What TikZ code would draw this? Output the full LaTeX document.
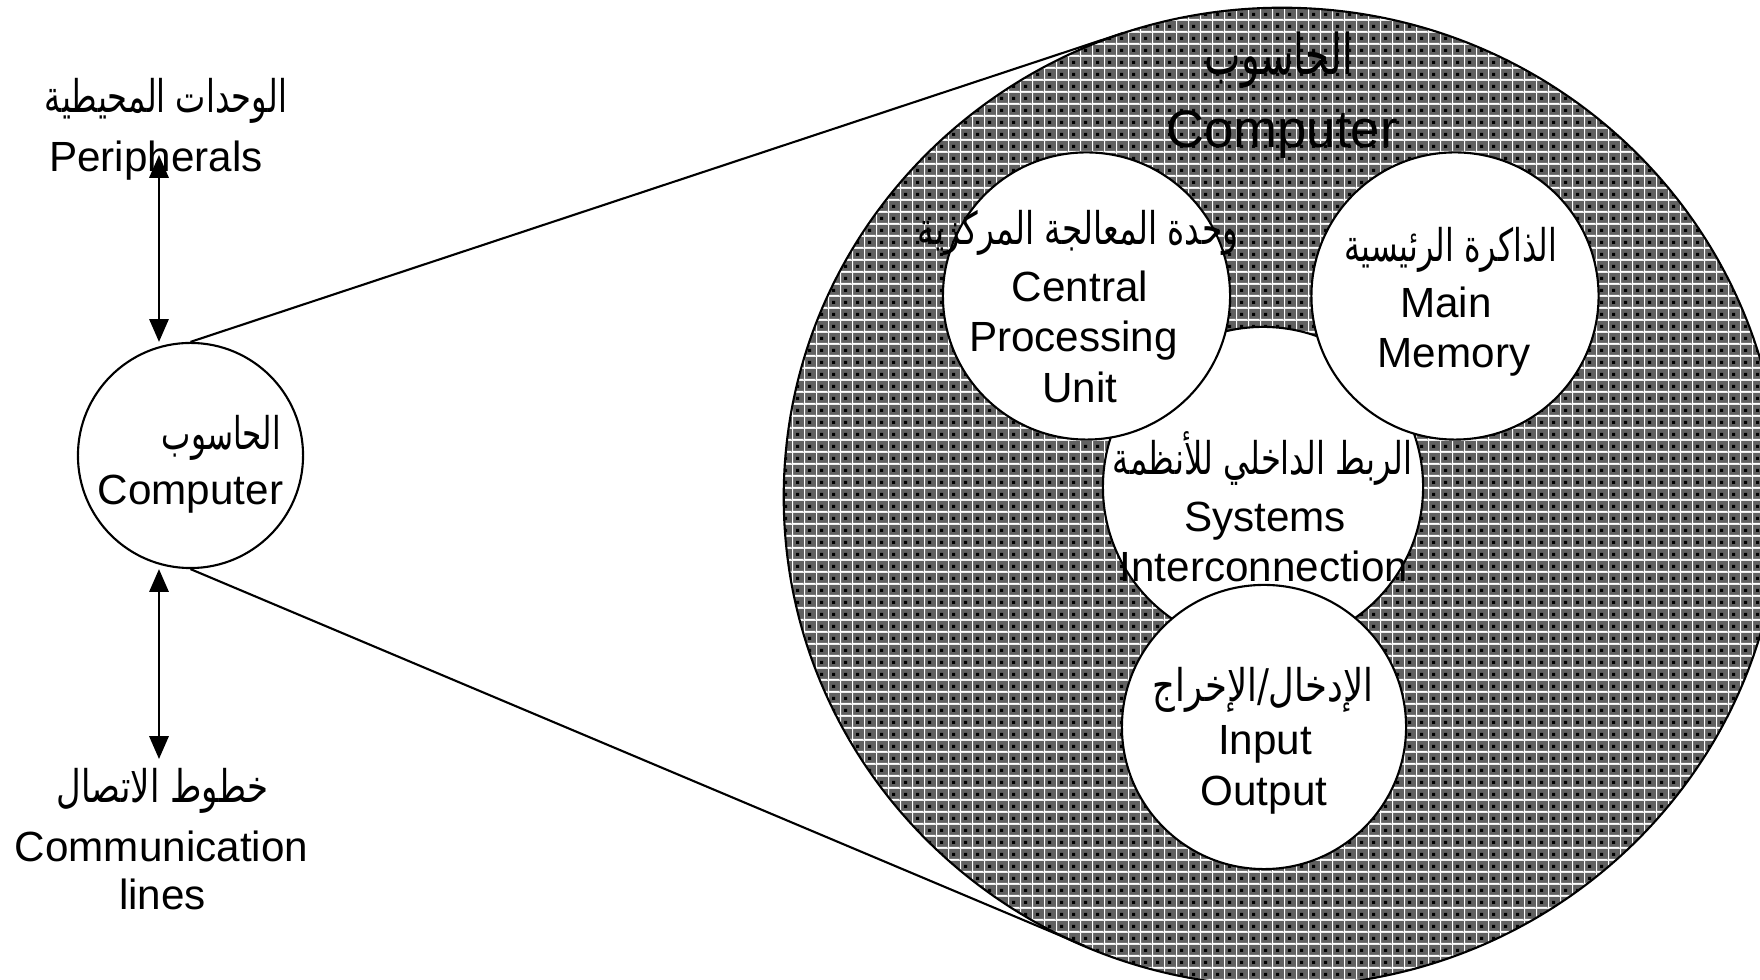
\documentclass[tikz,border=0pt]{standalone}
\usepackage{fontspec}
\usepackage{graphicx}
\setmainfont{Liberation Sans}
\newfontfamily\arabicfont[Script=Arabic]{DejaVu Sans}
\TeXXeTstate=1
\usetikzlibrary{patterns.meta,arrows.meta,shapes.geometric}
\definecolor{mgray}{gray}{0.38}
\tikzdeclarepattern{
  name=mesh,
  type=colored,
  bottom left={(0cm,0cm)},
  top right={(0.12cm,0.12cm)},
  tile size={(0.12cm,0.12cm)},
  code={
    \fill[mgray] (0cm,0cm) rectangle (0.12cm,0.12cm);
    \fill[white] (0cm,0cm) rectangle (0.12cm,0.013cm);
    \fill[white] (0cm,0cm) rectangle (0.013cm,0.12cm);
    \fill[black] (0.045cm,0.045cm) rectangle (0.078cm,0.078cm);
  }
}
\newcommand\artext[2]{\resizebox{#1}{\height}{\arabicfont #2}}
\tikzset{
  ring/.style={circle, draw=black, line width=0.6pt, fill=white, inner sep=0pt},
  en/.style={anchor=base, inner sep=0pt, font=\fontsize{12}{14}\selectfont},
  enbig/.style={anchor=base, inner sep=0pt, font=\fontsize{15}{18}\selectfont},
  ar/.style={anchor=base, inner sep=0pt, font=\fontsize{12.8}{15}\selectfont},
  arbig/.style={anchor=base, inner sep=0pt, font=\fontsize{16}{19}\selectfont},
  link/.style={line width=0.6pt},
  dblarrow/.style={line width=0.6pt, {Triangle[length=6.5pt,width=5.5pt]}-{Triangle[length=6.5pt,width=5.5pt]}}
}
\begin{document}
\begin{tikzpicture}[x=0.01cm, y=-0.01cm]
\useasboundingbox (0,0) rectangle (1760,980);
\clip (0,0) rectangle (1760,980);
% big computer
\node[ellipse, draw=black, line width=0.6pt, pattern=mesh, inner sep=0pt,
      minimum width=9.96cm, minimum height=9.78cm] (big) at (1282,497) {};
% small computer
\node[ring, minimum size=2.25cm] (comp) at (190.5,455.5) {};
\coordinate (tt) at (1123,33);
\coordinate (tb) at (1085,946);
\draw[link] (comp.north) -- (tt);
\draw[link] (comp.south) -- (tb);
% arrows
\coordinate (pa) at (159,155);
\coordinate (ca) at (159,759);
\draw[dblarrow] (pa) -- (pa |- comp.north);
\draw[dblarrow] (pa |- comp.south) -- (ca);
% inner circles
\node[ring, minimum size=3.20cm] (sic) at (1263,487) {};
\node[ring, minimum size=2.87cm] (cpu) at (1086.5,296) {};
\node[ring, minimum size=2.87cm] (mem) at (1455,296) {};
\node[ring, minimum size=2.84cm] (io) at (1264,727) {};
% texts
\node[ar] (tperar) at (166,113) {\artext{2.42cm}{\beginR الوحدات المحيطية\endR}};
\node[en] (tper) at (156,172) {Peripherals};
\node[ar] (tcompar) at (221.5,450) {\artext{1.19cm}{\beginR الحاسوب\endR}};
\node[en] (tcomp) at (190.5,505) {Computer};
\node[ar] (tcommar) at (162.5,803) {\artext{2.11cm}{\beginR خطوط الاتصال\endR}};
\node[en] (tcomm) at (161.5,862) {Communication};
\node[en] (tlines) at (162.5,910) {lines};
\node[arbig] (tbigar) at (1279,75) {\artext{1.48cm}{\beginR الحاسوب\endR}};
\node[enbig] (tbig) at (1282,148) {Computer};
\node[ar] (tcpuar) at (1078,245) {\artext{3.20cm}{\beginR وحدة المعالجة المركزية\endR}};
\node[en] (tcpu1) at (1080,302) {Central};
\node[en] (tcpu2) at (1073.5,352) {Processing};
\node[en] (tcpu3) at (1080,403) {Unit};
\node[ar] (tmemar) at (1451,262) {\artext{2.12cm}{\beginR الذاكرة الرئيسية\endR}};
\node[en] (tmem1) at (1446,318) {Main};
\node[en] (tmem2) at (1454,368) {Memory};
\node[ar] (tsicar) at (1262.5,475) {\artext{2.99cm}{\beginR الربط الداخلي للأنظمة\endR}};
\node[en] (tsic1) at (1265,532) {Systems};
\node[en] (tsic2) at (1264,582) {Interconnection};
\node[ar] (tioar) at (1263,702) {\artext{2.20cm}{\beginR الإدخال/الإخراج\endR}};
\node[en] (tio1) at (1265,755) {Input};
\node[en] (tio2) at (1264,806) {Output};
\end{tikzpicture}
\end{document}
